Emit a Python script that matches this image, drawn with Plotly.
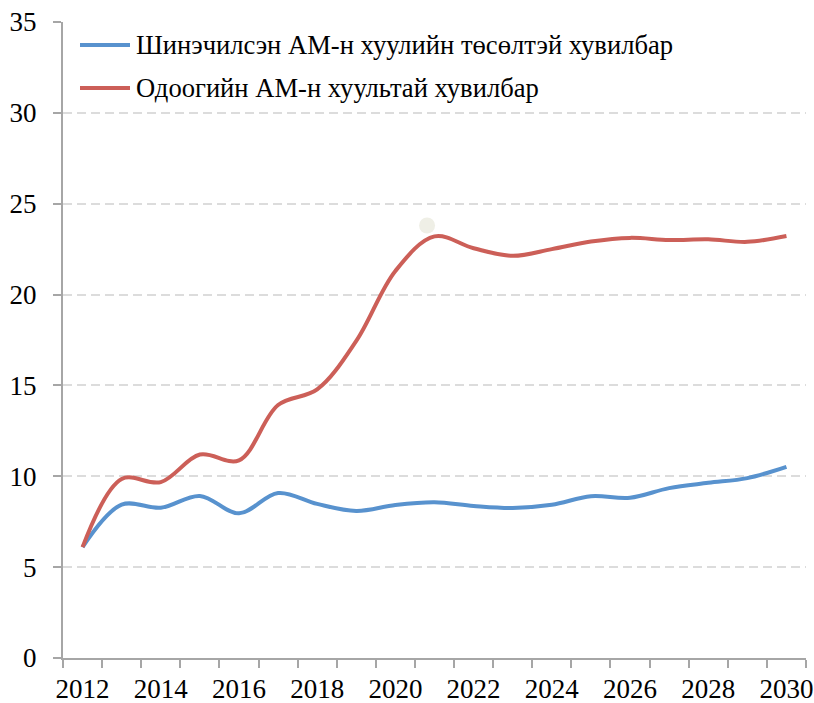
import plotly.graph_objects as go

years = list(range(2012, 2031))
series_names = ["Шинэчилсэн АМ-н хуулийн төсөлтэй хувилбар",
                "Одоогийн АМ-н хуультай хувилбар"]
blue_values = [6.1, 8.44, 8.27, 8.92, 7.96, 9.08, 8.48, 8.09, 8.42, 8.57,
               8.37, 8.26, 8.43, 8.9, 8.82, 9.35, 9.64, 9.9, 10.52]
red_values = [6.1, 9.85, 9.68, 11.2, 10.88, 13.92, 14.78, 17.45, 21.3, 23.2,
              22.55, 22.13, 22.5, 22.92, 23.12, 23.0, 23.04, 22.9, 23.22]
stray_x = [2020.81]
stray_y = [23.8]
x_tick_labels = [str(y) for y in range(2012, 2031, 2)]
y_ticks = [0, 5, 10, 15, 20, 25, 30, 35]

colors = ["#5892CE", "#CC5F58"]
FONT = "'Liberation Serif', 'Times New Roman', Times, 'DejaVu Serif', serif"
W, H = 814, 703
ML, MR, MT, MB = 63, 8, 22, 45

fig = go.Figure()
fig.add_trace(go.Scatter(x=stray_x, y=stray_y, mode="markers",
                         marker=dict(size=16, color="#EFEFE6"),
                         showlegend=False, hoverinfo="skip"))
for name, vals, col in zip(series_names, [blue_values, red_values], colors):
    fig.add_trace(go.Scatter(x=years, y=vals, name=name, mode="lines",
                             line=dict(color=col, width=4, shape="spline", smoothing=1.0),
                             showlegend=False))

# manual legend
pw = W - ML - MR
ph = H - MT - MB
def px_x(p):
    return (p - ML) / pw
def px_y(p):
    return (H - MB - p) / ph
leg_rows = [45, 88]
for name, col, ry in zip(series_names, colors, leg_rows):
    fig.add_shape(type="line", xref="paper", yref="paper",
                  x0=px_x(80), x1=px_x(130), y0=px_y(ry), y1=px_y(ry),
                  line=dict(color=col, width=4))
    fig.add_annotation(xref="paper", yref="paper", x=px_x(134), y=px_y(ry),
                       text=name, showarrow=False, xanchor="left", yanchor="middle",
                       font=dict(family=FONT, size=26.6, color="#000000"))

boundaries = [y - 0.5 for y in years] + [years[-1] + 0.5]
fig.update_xaxes(range=[years[0] - 0.5, years[-1] + 0.5],
                 tickvals=list(range(2012, 2031, 2)), ticktext=x_tick_labels,
                 ticks="", showgrid=False, zeroline=False, automargin=False,
                 showline=True, linecolor="#A6A6A6", linewidth=2,
                 tickfont=dict(family=FONT, size=27, color="#000000"),
                 ticklabelstandoff=6,
                 minor=dict(tickvals=boundaries, ticks="outside", ticklen=8,
                            tickcolor="#A6A6A6", tickwidth=1.5, showgrid=False))
fig.update_yaxes(range=[0, 35], tickvals=y_ticks, ticks="outside", ticklen=8,
                 tickcolor="#A6A6A6", tickwidth=1.5, automargin=False,
                 showgrid=True, gridcolor="#DCDCDC", gridwidth=2, griddash="9px,5px",
                 zeroline=False, showline=True, linecolor="#A6A6A6", linewidth=2,
                 tickfont=dict(family=FONT, size=27, color="#000000"),
                 ticklabelstandoff=11)
fig.update_layout(width=W, height=H, margin=dict(l=ML, r=MR, t=MT, b=MB),
                  plot_bgcolor="white", paper_bgcolor="white",
                  font=dict(family=FONT, size=27, color="#000000"))
fig.write_html("out.html", config={"displayModeBar": False},
               post_script="document.body.style.margin='0';document.body.style.padding='0';")
